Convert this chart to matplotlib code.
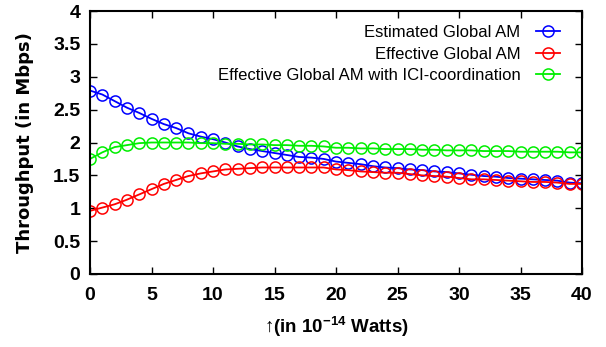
import matplotlib
matplotlib.use("Agg")
import matplotlib.pyplot as plt
from matplotlib import font_manager as fm
import numpy as np

names = {f.name for f in fm.fontManager.ttflist}
FAM = "Liberation Sans Narrow" if "Liberation Sans Narrow" in names else "Liberation Sans"

plt.rcParams['font.family'] = [FAM, 'DejaVu Sans']
plt.rcParams['mathtext.fontset'] = 'custom'
plt.rcParams['mathtext.rm'] = FAM + ':bold'
plt.rcParams['mathtext.bf'] = FAM + ':bold'

power = list(range(0, 41))
estimated = [2.79, 2.73, 2.63, 2.53, 2.45, 2.36, 2.28, 2.22, 2.14, 2.09,
             2.05, 2.00, 1.94, 1.90, 1.87, 1.84, 1.81, 1.78, 1.77, 1.75,
             1.71, 1.69, 1.67, 1.64, 1.62, 1.61, 1.59, 1.58, 1.56, 1.55,
             1.53, 1.51, 1.49, 1.48, 1.46, 1.45, 1.44, 1.43, 1.42, 1.39,
             1.38]
effective = [0.96, 1.01, 1.06, 1.13, 1.21, 1.29, 1.37, 1.43, 1.49, 1.53,
             1.56, 1.59, 1.60, 1.61, 1.62, 1.62, 1.62, 1.62, 1.62, 1.62,
             1.59, 1.58, 1.56, 1.55, 1.54, 1.54, 1.52, 1.50, 1.49, 1.48,
             1.46, 1.44, 1.44, 1.43, 1.42, 1.41, 1.40, 1.40, 1.39, 1.37,
             1.37]
coordinated = [1.75, 1.85, 1.93, 1.96, 1.99, 2.00, 2.00, 2.00, 2.00, 1.99,
               1.99, 1.98, 1.98, 1.97, 1.97, 1.96, 1.96, 1.95, 1.95, 1.94,
               1.92, 1.92, 1.91, 1.91, 1.90, 1.90, 1.90, 1.89, 1.89, 1.88,
               1.88, 1.88, 1.87, 1.87, 1.87, 1.86, 1.86, 1.86, 1.86, 1.85,
               1.85]
labels = ["Estimated Global AM", "Effective Global AM",
          "Effective Global AM with ICI-coordination"]
colors = ["#0000ff", "#ff0000", "#00ee00"]

fig = plt.figure(figsize=(6.06, 3.47), dpi=100)
ax = fig.add_axes([90/606, 1-274/347, 492/606, 263/347])

for ys, lab, c in zip([estimated, effective, coordinated], labels, colors):
    ax.plot(power, ys, color=c, lw=1.3, marker='o', ms=8, mfc='none',
            mec=c, mew=1.1, label=lab)

ax.set_xlim(0, 40)
ax.set_ylim(0, 4)
ax.set_xticks(np.arange(0, 41, 5))
ax.set_yticks(np.arange(0, 4.01, 0.5))
ax.set_yticklabels(["0", "0.5", "1", "1.5", "2", "2.5", "3", "3.5", "4"])
ax.tick_params(direction='in', length=5, width=1, top=True, right=True,
               labelsize=14)
ax.tick_params(axis='x', pad=9)
ax.tick_params(axis='y', pad=7)
for lab in ax.get_xticklabels() + ax.get_yticklabels():
    lab.set_fontweight('bold')
for s in ax.spines.values():
    s.set_linewidth(1.5)

ax.set_ylabel("Throughput (in Mbps)", fontsize=13, fontweight='bold', labelpad=14,
              family=['DejaVu Sans'])
ax.set_xlabel("↑(in 10$^{-14}$ Watts)", fontsize=13.5, fontweight='bold', labelpad=8,
              family=[FAM, 'DejaVu Sans'])

leg = ax.legend(loc='upper right', frameon=False, markerfirst=False,
                fontsize=12, handlelength=1.45, handletextpad=0.9,
                labelspacing=0.4, borderaxespad=0.3, borderpad=0.3,
                bbox_to_anchor=(0.975, 0.985))
for t in leg.get_texts():
    t.set_ha('right')
leg._legend_box.align = "right"

fig.savefig("out.png", dpi=100)
